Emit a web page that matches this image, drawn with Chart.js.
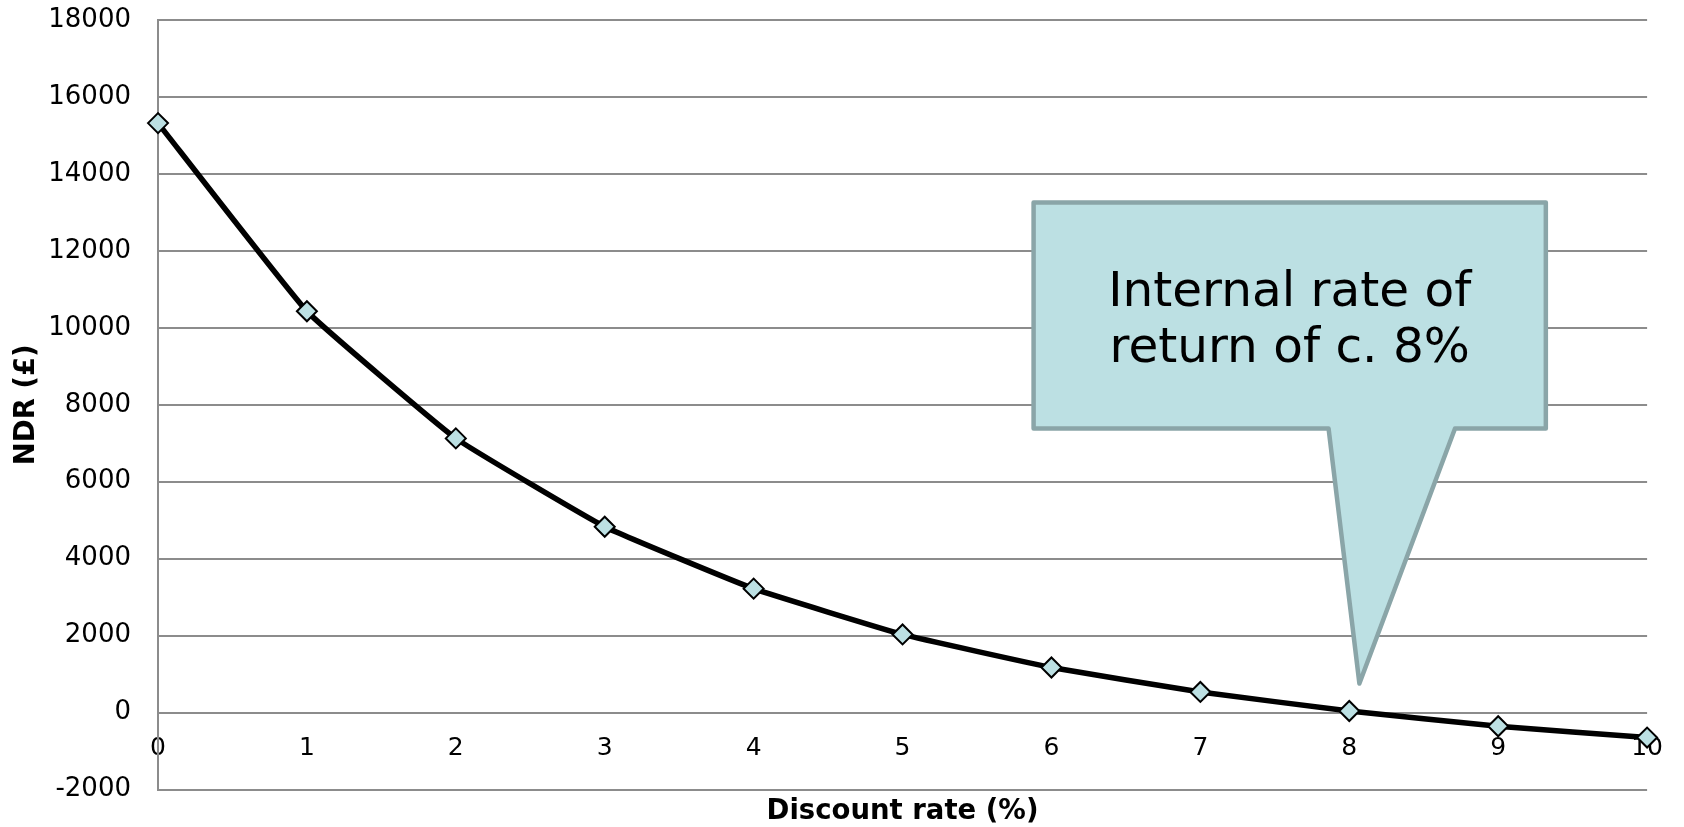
<!DOCTYPE html>
<html>
<head>
<meta charset="utf-8">
<script src="https://cdn.jsdelivr.net/npm/chart.js@4.4.1/dist/chart.umd.min.js"></script>
<style>
  html, body { margin: 0; padding: 0; background: #ffffff; }
  #wrap { width: 1684px; height: 827px; position: relative; }
</style>
</head>
<body>
<div id="wrap"><canvas id="chart" width="1684" height="827"></canvas></div>
<script>
// Discount rate (%) on the x axis
const discountRates = [0, 1, 2, 3, 4, 5, 6, 7, 8, 9, 10];
// Net discounted return (£) at each discount rate
const ndrValues = [15320, 10430, 7126, 4830, 3220, 2030, 1170, 536, 40, -356, -650];

// Axis tick labels and titles
const xTickValues = [0, 1, 2, 3, 4, 5, 6, 7, 8, 9, 10];
const yTickValues = [-2000, 0, 2000, 4000, 6000, 8000, 10000, 12000, 14000, 16000, 18000];
const xAxisTitle = 'Discount rate (%)';
const yAxisTitle = 'NDR (£)';

// Speech-bubble annotation, in data units
const calloutLines = ['Internal rate of', 'return of c. 8%'];
const calloutBox = { left: 5.88, right: 9.32, top: 13259, bottom: 7381 };
const calloutPointer = { baseLeft: 7.861, baseRight: 8.710, tipX: 8.068, tipY: 754 };

const FONT = '"DejaVu Sans", Verdana, sans-serif';
const GRID = '#8c8c8c';
const FILL = '#bce0e3';

Chart.defaults.font.family = FONT;
Chart.defaults.color = '#000000';

// Axis titles, drawn outside the plot area
const axisTitlePlugin = {
  id: 'axisTitles',
  afterDraw(chart) {
    const { ctx, chartArea } = chart;
    ctx.save();
    ctx.fillStyle = '#000000';
    ctx.font = 'bold 27.5px ' + FONT;
    ctx.textAlign = 'center';
    ctx.textBaseline = 'middle';
    ctx.fillText(xAxisTitle, (chartArea.left + chartArea.right) / 2, 812);
    ctx.translate(27, (chartArea.top + chartArea.bottom) / 2);
    ctx.rotate(-Math.PI / 2);
    ctx.fillText(yAxisTitle, 0, 0);
    ctx.restore();
  }
};

const calloutPlugin = {
  id: 'callout',
  afterDatasetsDraw(chart) {
    const { ctx } = chart;
    const xs = chart.scales.x, ys = chart.scales.y;
    const L = xs.getPixelForValue(calloutBox.left);
    const R = xs.getPixelForValue(calloutBox.right);
    const T = ys.getPixelForValue(calloutBox.top);
    const B = ys.getPixelForValue(calloutBox.bottom);
    const pl = xs.getPixelForValue(calloutPointer.baseLeft);
    const pr = xs.getPixelForValue(calloutPointer.baseRight);
    const tx = xs.getPixelForValue(calloutPointer.tipX);
    const ty = ys.getPixelForValue(calloutPointer.tipY);

    ctx.save();
    ctx.beginPath();
    ctx.moveTo(L, T);
    ctx.lineTo(R, T);
    ctx.lineTo(R, B);
    ctx.lineTo(pr, B);
    ctx.lineTo(tx, ty);
    ctx.lineTo(pl, B);
    ctx.lineTo(L, B);
    ctx.closePath();
    ctx.fillStyle = FILL;
    ctx.fill();
    ctx.lineWidth = 4.5;
    ctx.lineJoin = 'round';
    ctx.strokeStyle = '#8aa5a8';
    ctx.stroke();

    ctx.fillStyle = '#000000';
    ctx.font = '48.5px ' + FONT;
    ctx.textAlign = 'center';
    ctx.textBaseline = 'alphabetic';
    const cx = (L + R) / 2;
    calloutLines.forEach((line, i) => {
      ctx.fillText(line, cx, T + 104 + i * 56);
    });
    ctx.restore();
  }
};

new Chart(document.getElementById('chart'), {
  type: 'line',
  data: {
    datasets: [{
      label: 'NDR',
      data: discountRates.map((r, i) => ({ x: r, y: ndrValues[i] })),
      borderColor: '#000000',
      borderWidth: 5.5,
      tension: 0.1,
      pointStyle: 'rectRot',
      pointRadius: 10,
      pointHoverRadius: 10,
      pointBackgroundColor: FILL,
      pointBorderColor: '#000000',
      pointBorderWidth: 2,
      clip: false
    }]
  },
  options: {
    responsive: false,
    animation: false,
    events: [],
    layout: { padding: { top: 20, right: 30, left: 0, bottom: 37.5 } },
    plugins: {
      legend: { display: false },
      tooltip: { enabled: false }
    },
    scales: {
      x: {
        type: 'linear',
        min: 0,
        max: 10,
        position: { y: 0 },
        grid: { display: false, drawTicks: false },
        border: { display: false },
        afterBuildTicks: (s) => { s.ticks = xTickValues.map(v => ({ value: v })); },
        afterFit: (s) => { s.height = 0; },
        ticks: {
          font: { size: 25 },
          color: '#000000',
          padding: 21,
          maxRotation: 0,
          autoSkip: false,
          callback: (v) => String(v)
        }
      },
      y: {
        type: 'linear',
        min: -2000,
        max: 18000,
        afterBuildTicks: (s) => { s.ticks = yTickValues.map(v => ({ value: v })); },
        afterFit: (s) => {
          s.width = 158;
          s.paddingTop = 0;
          s.paddingBottom = 0;
        },
        grid: { color: GRID, lineWidth: 2, drawTicks: false },
        border: { color: GRID, width: 2 },
        ticks: {
          font: { size: 26 },
          color: '#000000',
          padding: 27,
          callback: (v) => String(v)
        }
      }
    }
  },
  plugins: [calloutPlugin, axisTitlePlugin]
});
</script>
</body>
</html>
